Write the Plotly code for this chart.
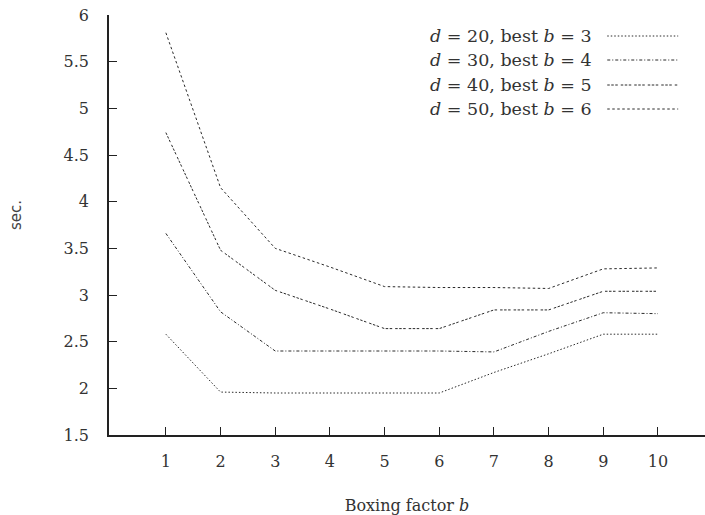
import plotly.graph_objects as go

b_values = [1, 2, 3, 4, 5, 6, 7, 8, 9, 10]
d20 = [2.58, 1.96, 1.95, 1.95, 1.95, 1.95, 2.17, 2.37, 2.58, 2.58]
d30 = [3.66, 2.82, 2.40, 2.40, 2.40, 2.40, 2.39, 2.61, 2.81, 2.80]
d40 = [4.74, 3.48, 3.05, 2.85, 2.64, 2.64, 2.84, 2.84, 3.04, 3.04]
d50 = [5.81, 4.15, 3.50, 3.30, 3.09, 3.08, 3.08, 3.07, 3.28, 3.29]
series_names = ["<i>d</i> = 20, best <i>b</i> = 3",
                "<i>d</i> = 30, best <i>b</i> = 4",
                "<i>d</i> = 40, best <i>b</i> = 5",
                "<i>d</i> = 50, best <i>b</i> = 6"]
y_ticks = [1.5, 2, 2.5, 3, 3.5, 4, 4.5, 5, 5.5, 6]
y_tick_labels = ["1.5", "2", "2.5", "3", "3.5", "4", "4.5", "5", "5.5", "6"]

dashes = ["1.5px,2px", "3px,2px,1px,2px", "2.5px,1.5px,2.5px,1.5px,2.5px,3px", "2.5px,2.5px"]
series = [d20, d30, d40, d50]
FONT = "DejaVu Serif"
col = "#2a2a2a"
txt = "#333333"

fig = go.Figure()
for vals, dash, name in zip(series, dashes, series_names):
    fig.add_trace(go.Scatter(x=b_values, y=vals, mode="lines", name=name,
                             line=dict(color=col, width=1, dash=dash),
                             showlegend=False))

# manual legend (text left, sample right)
rows = [36, 60, 85, 109]
for r, dash, name in zip(rows, dashes, series_names):
    yp = (435 - r) / 420
    fig.add_annotation(xref="paper", yref="paper", x=0.813, y=yp, text=name,
                       showarrow=False, xanchor="right", yanchor="middle",
                       font=dict(family=FONT, size=17.5, color=txt))
    fig.add_shape(type="line", xref="paper", yref="paper", x0=0.836, x1=0.955,
                  y0=yp, y1=yp, line=dict(color=col, width=1, dash=dash))

# y-axis title as annotation
fig.add_annotation(xref="paper", yref="paper", x=0, y=(435 - 215) / 420,
                   xshift=-93, text="sec.", textangle=-90, showarrow=False,
                   xanchor="center", yanchor="middle",
                   font=dict(family="DejaVu Sans", size=15, color="#444"))

fig.update_layout(
    width=705, height=515,
    margin=dict(l=109, r=0, t=15, b=80),
    paper_bgcolor="white", plot_bgcolor="white",
    font=dict(family=FONT, size=16, color=txt),
    xaxis=dict(range=[-0.04, 10.86], tickvals=b_values,
               ticks="inside", ticklen=8, tickcolor="#222", tickwidth=1,
               showline=True, linecolor="#222", linewidth=1.5,
               showgrid=False, zeroline=False, ticklabelstandoff=11,
               tickfont=dict(family=FONT, size=16, color=txt),
               title=dict(text="Boxing factor <i>b</i>", standoff=30,
                          font=dict(family=FONT, size=16, color=txt))),
    yaxis=dict(range=[1.5, 6], tickvals=y_ticks, ticktext=y_tick_labels,
               ticks="inside", ticklen=8, tickcolor="#222", tickwidth=1,
               showline=True, linecolor="#222", linewidth=1.5,
               showgrid=False, zeroline=False, ticklabelstandoff=15,
               tickfont=dict(family=FONT, size=16, color=txt)),
)

fig.write_html("out.html", config={"displayModeBar": False},
               post_script="document.body.style.margin='0px';")
